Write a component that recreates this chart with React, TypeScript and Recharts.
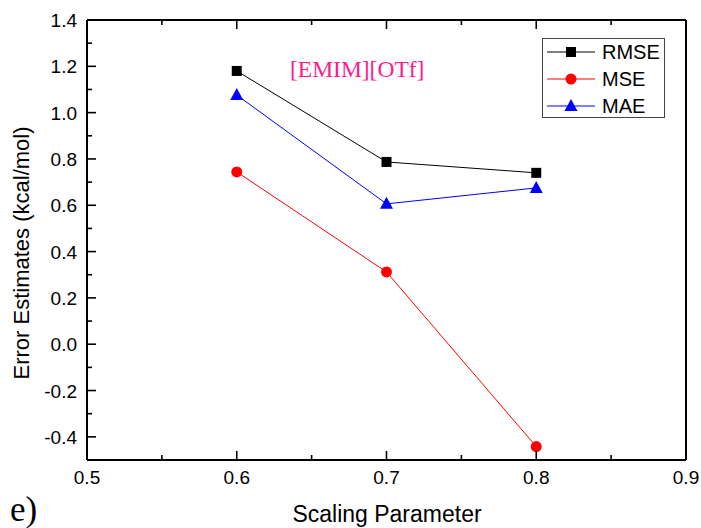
import { Label, Line, LineChart, XAxis, YAxis } from "recharts";

const scaling = [0.6, 0.7, 0.8];
const rmse = [1.18, 0.787, 0.74];
const mse = [0.744, 0.312, -0.442];
const mae = [1.076, 0.606, 0.675];

const seriesNames = ["RMSE", "MSE", "MAE"];
const seriesColors = ["#000000", "#ff0000", "#0000ff"];
const seriesShapes = ["square", "circle", "triangle"];

const xTicks = [0.5, 0.55, 0.6, 0.65, 0.7, 0.75, 0.8, 0.85, 0.9];
const yTicks = [
  -0.5, -0.4, -0.3, -0.2, -0.1, 0, 0.1, 0.2, 0.3, 0.4, 0.5, 0.6, 0.7, 0.8,
  0.9, 1.0, 1.1, 1.2, 1.3, 1.4,
];

const data = scaling.map((x, i) => ({
  x,
  RMSE: rmse[i],
  MSE: mse[i],
  MAE: mae[i],
}));

const SANS = "Arial, 'Liberation Sans', sans-serif";
const SERIF = "'Times New Roman', 'Liberation Serif', serif";

const isMajorX = (v: number) => Math.round(v * 100) % 10 === 0;
const isMajorY = (v: number) => Math.round(v * 10) % 2 === 0;

function Marker({ shape, color, cx, cy }: { shape: string; color: string; cx: number; cy: number }) {
  if (shape === "square") {
    return <rect x={cx - 5} y={cy - 5} width={10} height={10} fill={color} />;
  }
  if (shape === "circle") {
    return <circle cx={cx} cy={cy} r={5.5} fill={color} />;
  }
  return (
    <polygon
      points={`${cx},${cy - 7} ${cx + 6.5},${cy + 5} ${cx - 6.5},${cy + 5}`}
      fill={color}
    />
  );
}

function BottomTick(props: any) {
  const { x, y, payload } = props;
  const major = isMajorX(payload.value);
  return (
    <g>
      <line x1={x} y1={y} x2={x} y2={y - (major ? 9 : 5)} stroke="#000" strokeWidth={1.6} />
      {major && (
        <text x={x} y={y + 24} textAnchor="middle" fontSize={19} fontFamily={SANS} fill="#000">
          {payload.value.toFixed(1)}
        </text>
      )}
    </g>
  );
}

function TopTick(props: any) {
  const { x, y, payload } = props;
  const major = isMajorX(payload.value);
  return <line x1={x} y1={y} x2={x} y2={y + (major ? 9 : 5)} stroke="#000" strokeWidth={1.6} />;
}

function LeftTick(props: any) {
  const { x, y, payload } = props;
  const major = isMajorY(payload.value);
  return (
    <g>
      <line x1={x} y1={y} x2={x + (major ? 9 : 5)} y2={y} stroke="#000" strokeWidth={1.6} />
      {major && (
        <text x={x - 10} y={y + 7} textAnchor="end" fontSize={19} fontFamily={SANS} fill="#000">
          {payload.value.toFixed(1)}
        </text>
      )}
    </g>
  );
}

function RightTick(props: any) {
  const { x, y, payload } = props;
  const major = isMajorY(payload.value);
  return <line x1={x} y1={y} x2={x - (major ? 9 : 5)} y2={y} stroke="#000" strokeWidth={1.6} />;
}

export default function App() {
  return (
    <div
      style={{
        position: "absolute",
        left: 0,
        top: 0,
        width: 701,
        height: 528,
        background: "#fff",
      }}
    >
      <LineChart
        width={701}
        height={528}
        data={data}
        margin={{ top: 19, right: 14, bottom: 67, left: 0 }}
      >
        <XAxis
          dataKey="x"
          type="number"
          domain={[0.5, 0.9]}
          ticks={xTicks}
          interval={0}
          height={1}
          tickSize={0}
          tickMargin={0}
          tickLine={false}
          axisLine={{ stroke: "#000", strokeWidth: 2 }}
          tick={BottomTick}
        >
          <Label
            content={() => (
              <text x={387} y={522} textAnchor="middle" fontSize={23} fontFamily={SANS} fill="#000">
                Scaling Parameter
              </text>
            )}
          />
        </XAxis>
        <XAxis
          xAxisId="top"
          orientation="top"
          dataKey="x"
          type="number"
          domain={[0.5, 0.9]}
          ticks={xTicks}
          interval={0}
          height={1}
          tickSize={0}
          tickMargin={0}
          tickLine={false}
          axisLine={{ stroke: "#000", strokeWidth: 2 }}
          tick={TopTick}
        />
        <YAxis
          type="number"
          domain={[-0.5, 1.4]}
          ticks={yTicks}
          interval={0}
          width={87}
          tickSize={0}
          tickMargin={0}
          tickLine={false}
          axisLine={{ stroke: "#000", strokeWidth: 2 }}
          tick={LeftTick}
        >
          <Label
            content={() => (
              <text
                x={29}
                y={253}
                transform="rotate(-90 29 253)"
                textAnchor="middle"
                fontSize={22}
                fontFamily={SANS}
                fill="#000"
              >
                Error Estimates (kcal/mol)
              </text>
            )}
          />
        </YAxis>
        <YAxis
          yAxisId="right"
          orientation="right"
          type="number"
          domain={[-0.5, 1.4]}
          ticks={yTicks}
          interval={0}
          width={1}
          tickSize={0}
          tickMargin={0}
          tickLine={false}
          axisLine={{ stroke: "#000", strokeWidth: 2 }}
          tick={RightTick}
        />
        {seriesNames.map((name, s) => (
          <Line
            key={name}
            dataKey={name}
            stroke={seriesColors[s]}
            strokeWidth={1}
            isAnimationActive={false}
            activeDot={false}
            dot={(p: any) => (
              <Marker
                key={`${name}-${p.index}`}
                shape={seriesShapes[s]}
                color={seriesColors[s]}
                cx={p.cx}
                cy={p.cy}
              />
            )}
          />
        ))}
      </LineChart>

      {/* title inside plot */}
      <div
        style={{
          position: "absolute",
          left: 290,
          top: 55,
          fontFamily: SERIF,
          fontSize: 23.5,
          color: "#ff1a8c",
          lineHeight: "28px",
          whiteSpace: "nowrap",
        }}
      >
        [EMIM][OTf]
      </div>

      {/* legend */}
      <div
        style={{
          position: "absolute",
          left: 542,
          top: 38,
          width: 123,
          height: 80,
          border: "1px solid #444",
          boxSizing: "border-box",
          background: "#fff",
        }}
      >
        <svg width={123} height={80} style={{ position: "absolute", left: -1, top: -1 }}>
          {seriesNames.map((name, s) => {
            const cy = 14 + s * 27;
            return (
              <g key={name}>
                <line x1={5} y1={cy} x2={53} y2={cy} stroke={seriesColors[s]} strokeWidth={1} />
                <Marker shape={seriesShapes[s]} color={seriesColors[s]} cx={29} cy={cy} />
                <text x={60} y={cy + 7} fontSize={20} fontFamily={SANS} fill="#000">
                  {name}
                </text>
              </g>
            );
          })}
        </svg>
      </div>

      {/* panel letter */}
      <div
        style={{
          position: "absolute",
          left: 10,
          top: 491,
          fontFamily: SERIF,
          fontSize: 35,
          color: "#000",
          lineHeight: "38px",
        }}
      >
        e)
      </div>
    </div>
  );
}
